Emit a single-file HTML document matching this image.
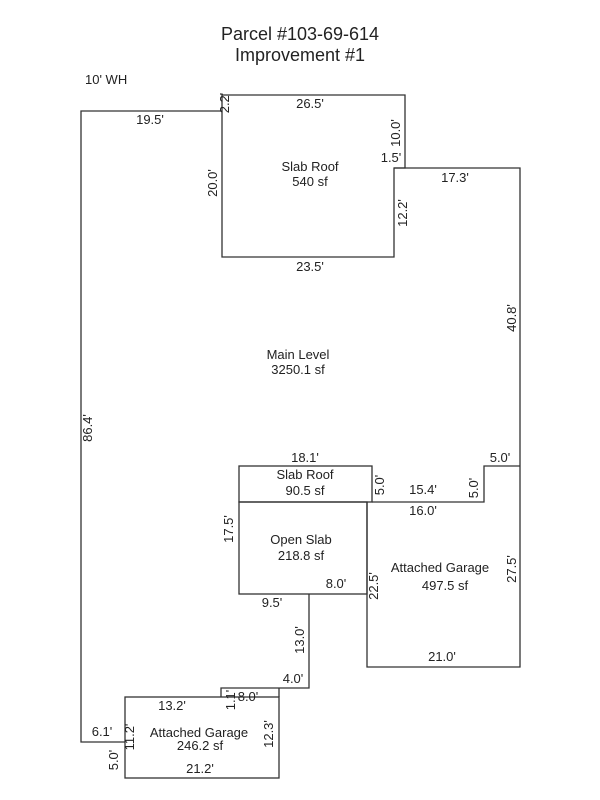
<!DOCTYPE html>
<html><head><style>body{margin:0;background:#fff}svg{display:block}text{font-family:"Liberation Sans",Arial,sans-serif;font-size:13px;fill:#222}</style></head><body>
<svg width="600" height="800" viewBox="0 0 600 800">
<g fill="none" stroke="#333" stroke-width="1.3">
<polyline points="222,111 81,111 81,742 125,742"/>
<polygon points="222,95 405,95 405,168 394,168 394,257 222,257"/>
<polyline points="394,168 520,168 520,667 367,667 367,502"/>
<polyline points="520,466 484,466 484,502 372,502"/>
<rect x="239" y="466" width="133" height="36"/>
<rect x="239" y="502" width="128" height="92"/>
<polyline points="309,594 309,688 221,688 221,697"/>
<rect x="125" y="697" width="154" height="81"/>
<line x1="279" y1="688" x2="279" y2="697"/>
</g>
<text x="300" y="40" text-anchor="middle" style="font-size:18px">Parcel #103-69-614</text>
<text x="300" y="61" text-anchor="middle" style="font-size:18px">Improvement #1</text>
<text x="85" y="84">10' WH</text>
<text x="150" y="124" text-anchor="middle">19.5'</text>
<text x="310" y="108" text-anchor="middle">26.5'</text>
<text x="310" y="171" text-anchor="middle">Slab Roof</text>
<text x="310" y="186" text-anchor="middle">540 sf</text>
<text x="310" y="271" text-anchor="middle">23.5'</text>
<text x="455" y="182" text-anchor="middle">17.3'</text>
<text x="391" y="162" text-anchor="middle">1.5'</text>
<text x="298" y="359" text-anchor="middle">Main Level</text>
<text x="298" y="374" text-anchor="middle">3250.1 sf</text>
<text x="305" y="462" text-anchor="middle">18.1'</text>
<text x="500" y="462" text-anchor="middle">5.0'</text>
<text x="305" y="479" text-anchor="middle">Slab Roof</text>
<text x="305" y="495" text-anchor="middle">90.5 sf</text>
<text x="423" y="494" text-anchor="middle">15.4'</text>
<text x="423" y="515" text-anchor="middle">16.0'</text>
<text x="301" y="544" text-anchor="middle">Open Slab</text>
<text x="301" y="560" text-anchor="middle">218.8 sf</text>
<text x="440" y="572" text-anchor="middle">Attached Garage</text>
<text x="445" y="590" text-anchor="middle">497.5 sf</text>
<text x="336" y="588" text-anchor="middle">8.0'</text>
<text x="272" y="607" text-anchor="middle">9.5'</text>
<text x="442" y="661" text-anchor="middle">21.0'</text>
<text x="293" y="683" text-anchor="middle">4.0'</text>
<text x="248" y="701" text-anchor="middle">8.0'</text>
<text x="172" y="710" text-anchor="middle">13.2'</text>
<text x="102" y="736" text-anchor="middle">6.1'</text>
<text x="199" y="737" text-anchor="middle">Attached Garage</text>
<text x="200" y="750" text-anchor="middle">246.2 sf</text>
<text x="200" y="773" text-anchor="middle">21.2'</text>
<g>
<text transform="translate(229,103) rotate(-90)" text-anchor="middle">2.2'</text>
<text transform="translate(400,133) rotate(-90)" text-anchor="middle">10.0'</text>
<text transform="translate(217,183) rotate(-90)" text-anchor="middle">20.0'</text>
<text transform="translate(407,213) rotate(-90)" text-anchor="middle">12.2'</text>
<text transform="translate(516,318) rotate(-90)" text-anchor="middle">40.8'</text>
<text transform="translate(92,428) rotate(-90)" text-anchor="middle">86.4'</text>
<text transform="translate(384,485) rotate(-90)" text-anchor="middle">5.0'</text>
<text transform="translate(478,488) rotate(-90)" text-anchor="middle">5.0'</text>
<text transform="translate(233,529) rotate(-90)" text-anchor="middle">17.5'</text>
<text transform="translate(378,586) rotate(-90)" text-anchor="middle">22.5'</text>
<text transform="translate(516,569) rotate(-90)" text-anchor="middle">27.5'</text>
<text transform="translate(304,640) rotate(-90)" text-anchor="middle">13.0'</text>
<text transform="translate(235,700) rotate(-90)" text-anchor="middle">1.1'</text>
<text transform="translate(134,737) rotate(-90)" text-anchor="middle">11.2'</text>
<text transform="translate(273,734) rotate(-90)" text-anchor="middle">12.3'</text>
<text transform="translate(118,760) rotate(-90)" text-anchor="middle">5.0'</text>
</g>
</svg>
</body></html>
